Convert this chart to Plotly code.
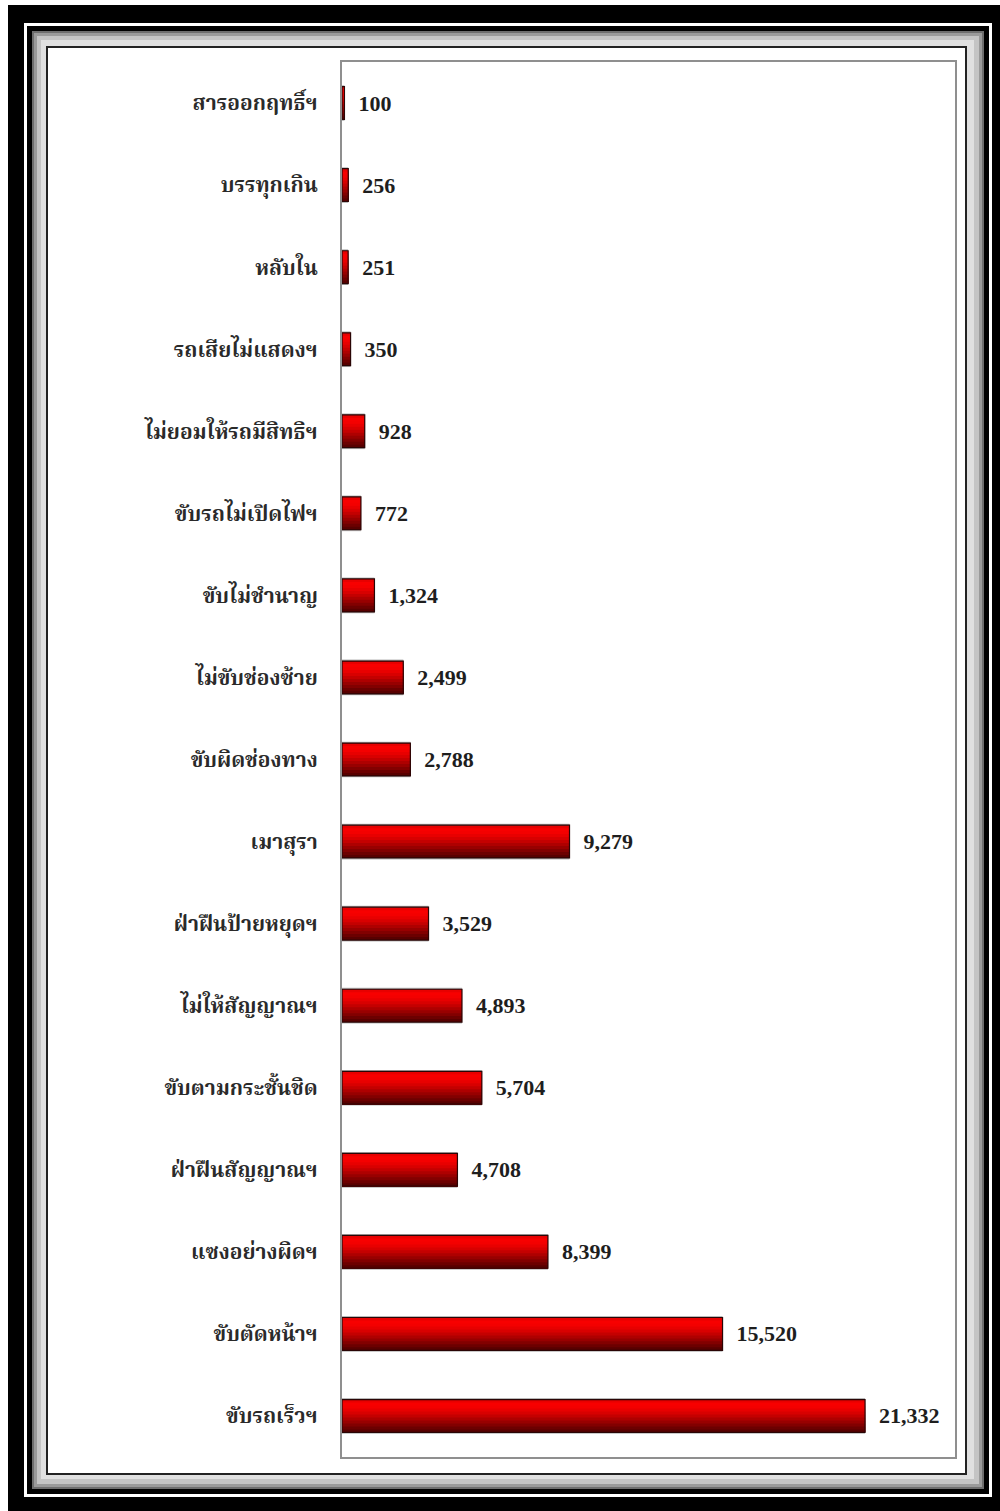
import plotly.graph_objects as go

# ---- data (top-to-bottom order as shown) ----
categories = [
    "สารออกฤทธิ์ฯ", "บรรทุกเกิน", "หลับใน", "รถเสียไม่แสดงฯ",
    "ไม่ยอมให้รถมีสิทธิฯ", "ขับรถไม่เปิดไฟฯ", "ขับไม่ชำนาญ", "ไม่ขับช่องซ้าย",
    "ขับผิดช่องทาง", "เมาสุรา", "ฝ่าฝืนป้ายหยุดฯ", "ไม่ให้สัญญาณฯ",
    "ขับตามกระชั้นชิด", "ฝ่าฝืนสัญญาณฯ", "แซงอย่างผิดฯ", "ขับตัดหน้าฯ", "ขับรถเร็วฯ",
]
values = [100, 256, 251, 350, 928, 772, 1324, 2499, 2788, 9279,
          3529, 4893, 5704, 4708, 8399, 15520, 21332]

# ---- layout constants ----
W, H = 1000, 1511
L, R, T, B = 342, 45, 62, 54
PW, PH = W - L - R, H - T - B

def px(x):
    return (x - L) / PW

def py(y):
    return (H - B - y) / PH

def rect(x0, y0, x1, y1, color):
    return dict(type="rect", xref="paper", yref="paper",
                x0=px(x0), x1=px(x1), y0=py(y1), y1=py(y0),
                fillcolor=color, line=dict(width=0), layer="below")

fig = go.Figure()

BAR_W = 0.40
# shadow / halo
fig.add_trace(go.Bar(x=values, y=categories, orientation="h", width=BAR_W + 0.035,
                     offset=-(BAR_W + 0.035) / 2,
                     marker=dict(color="#b8b8b8", line=dict(width=0)),
                     hoverinfo="skip", showlegend=False))

grad = ["#e80000", "#f80000", "#f40000", "#e80000", "#d80000", "#c40000",
        "#ae0000", "#980000", "#820000", "#6c0000", "#580000"]
n = len(grad)
step = BAR_W / n
for i, c in enumerate(grad):
    # each slice runs from its own top edge to the bar bottom (no seams)
    fig.add_trace(go.Bar(x=values, y=categories, orientation="h",
                         width=BAR_W - i * step, offset=-BAR_W / 2 + i * step,
                         marker=dict(color=c, line=dict(width=0)),
                         hoverinfo="skip", showlegend=False))

# outline + labels
fig.add_trace(go.Bar(x=values, y=categories, orientation="h", width=BAR_W,
                     offset=-BAR_W / 2,
                     marker=dict(color="rgba(0,0,0,0)", line=dict(color="#2a0505", width=1.2)),
                     texttemplate="\u00a0\u00a0%{x:,}", textposition="outside",
                     cliponaxis=False,
                     textfont=dict(family="Liberation Serif, Times New Roman, serif",
                                   size=22, color="#1e1e1e", weight="bold"),
                     hoverinfo="skip", showlegend=False))

shapes = [
    rect(8, 5, 1010, 1520, "#000000"),
    rect(24, 23, 992, 1497, "#ffffff"),
    rect(27, 26, 989, 1494, "#000000"),
    rect(32, 31, 984, 1489, "#6e6e6e"),
    rect(34, 33, 982, 1487, "#9a9a9a"),
    rect(37, 36, 979, 1484, "#c4c4c4"),
    rect(41, 40, 974, 1479, "#e0e0e0"),
    rect(46, 46, 967, 1475, "#222222"),
    rect(48, 48, 965, 1473, "#ffffff"),
]

fig.update_layout(
    width=W, height=H,
    margin=dict(l=L, r=R, t=T, b=B),
    paper_bgcolor="#ffffff", plot_bgcolor="#ffffff",
    barmode="overlay", showlegend=False,
    shapes=shapes,
    xaxis=dict(range=[0, 25000], showticklabels=False, showgrid=False, zeroline=False,
               showline=True, mirror=True, linecolor="#8f8f8f", linewidth=2, ticks=""),
    yaxis=dict(type="category", autorange="reversed", showgrid=False, zeroline=False,
               showline=True, mirror=True, linecolor="#8f8f8f", linewidth=2, ticks="",
               ticklabelstandoff=18,
               tickfont=dict(family="Liberation Serif, Noto Serif Thai, Noto Sans Thai, serif",
                             size=21, color="#2a2a2a", weight="bold")),
)

fig.write_html("out.html", config={"displayModeBar": False},
               post_script="document.body.style.margin='0';document.body.style.overflow='hidden';")
